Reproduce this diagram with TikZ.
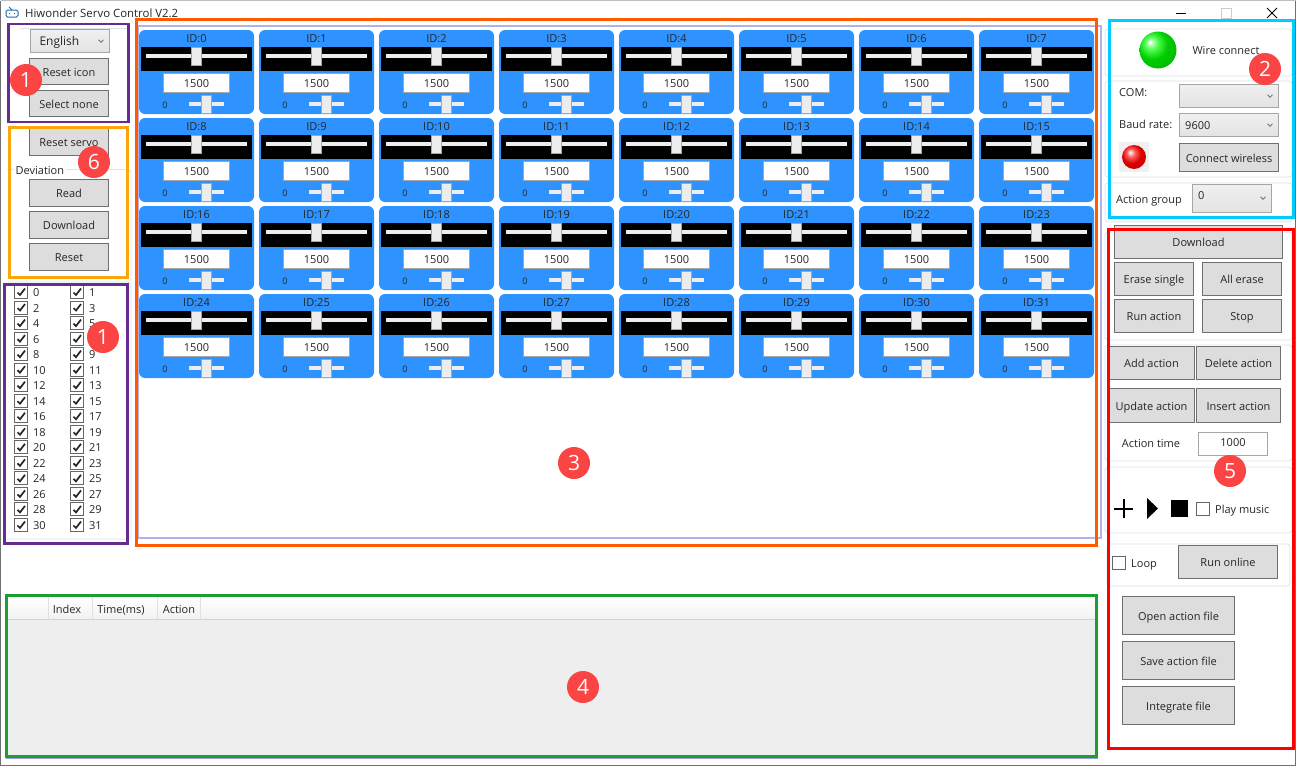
\documentclass[tikz,border=0pt]{standalone}
\usepackage{fontspec}
\setmainfont{Open Sans}
\usetikzlibrary{shapes.geometric}

\definecolor{servoblue}{HTML}{2E93FF}
\definecolor{btnfill}{HTML}{DDDDDD}
\definecolor{btnedge}{HTML}{707070}
\definecolor{groupedge}{HTML}{DCE3EC}
\definecolor{thumbfill}{HTML}{EDEDED}
\definecolor{badgered}{HTML}{FB4444}
\definecolor{framepurple}{HTML}{662D91}
\definecolor{frameamber}{HTML}{FBA60A}
\definecolor{frameorange}{HTML}{FF5A00}
\definecolor{framecyan}{HTML}{00CCFF}
\definecolor{framegreen}{HTML}{1E9E32}

\pgfdeclareradialshading{ledgreen}{\pgfpoint{-11bp}{11bp}}{color(0bp)=(white); color(9bp)=(green!70!white); color(20bp)=(green!80!black); color(38bp)=(green!70!black); color(60bp)=(green!50!black)}
\pgfdeclareradialshading{ledred}{\pgfpoint{-8bp}{10bp}}{color(0bp)=(white); color(9bp)=(red!65!white); color(20bp)=(red!85!black); color(38bp)=(red!75!black); color(60bp)=(red!50!black)}

\tikzset{
  guitext/.style={font=\fontsize{11}{12}\selectfont, text=black!85, inner sep=0pt, text height=11pt, text depth=2pt},
  guibtn/.style={guitext, draw=btnedge, fill=btnfill, line width=1pt},
  guicombo/.style={guitext, draw=black!35, top color=white!94!black, bottom color=white!89!black, line width=1pt},
  guibox/.style={guitext, draw=black!35, fill=white, line width=1pt},
  groupbox/.style={draw=groupedge, line width=.8pt, rounded corners=3pt},
  frame/.style={line width=3pt},
  badge/.style={circle, fill=badgered, text=white, minimum size=32pt, inner sep=0pt, font=\fontsize{21}{23}\selectfont},
  checkbox/.style={draw=black!60, fill=white, line width=1pt, minimum size=13pt, inner sep=0pt},
  track/.style={fill=thumbfill, draw=none, minimum height=4pt, inner sep=0pt},
  thumb/.style={fill=thumbfill, draw=black!35, line width=.8pt, inner sep=0pt},
  chevron/.style={draw=black!55, line width=.9pt},
}

\begin{document}
\begin{tikzpicture}[x=1pt, y=-1pt]
  \useasboundingbox (0,0) rectangle (1296,766);
  \fill[white] (0,0) rectangle (1296,766);
  \draw[btnedge, line width=1pt] (.5,766) -- (.5,.5);
  \draw[black!25, line width=1pt] (.5,.5) -- (1295.5,.5);
  \draw[btnedge, line width=1pt] (1295.5,.5) -- (1295.5,765.5) -- (0,765.5);

  % title bar
  \node[guitext, anchor=west, font=\fontsize{11.4}{12}\selectfont] (title) at (25,12.5) {Hiwonder Servo Control V2.2};
  \draw[servoblue!70!black, line width=1pt, rounded corners=1.5pt] (6,10) rectangle (18,17);
  \draw[servoblue!70!black, line width=1pt] (9,13.5) -- (10,13.5) (14,13.5) -- (15,13.5) (12,10) -- (9,7);
  \draw[black, line width=1pt] (1176,13) -- (1186,13);
  \draw[black!20, line width=1pt] (1221.5,8.5) rectangle (1231.5,18);
  \draw[black, line width=1pt] (1267,8) -- (1277,18) (1277,8) -- (1267,18);

  % group outlines
  \draw[groupedge, line width=.8pt] (20,28) -- (130,28);
  \draw[groupbox] (7,169.5) -- (131,169.5) -- (131,281);
  \draw[groupbox] (8,282) -- (131,282) -- (131,539) -- (8,539);
  \draw[groupbox] (1105,29) rectangle (1292,76);
  \draw[groupbox] (1105,81) rectangle (1292,177);
  \draw[groupbox] (1105,183) rectangle (1292,222);
  \draw[groupbox] (1105,232) rectangle (1292,340);
  \draw[groupbox] (1105,345) rectangle (1292,461);
  \draw[groupbox] (1105,467) rectangle (1292,533);
  \draw[groupbox] (1107,544) rectangle (1290,586);
  \draw[black!30!blue!30, line width=2pt] (138,26) rectangle (1101,538);

  % left column
  \node[guicombo, minimum width=79pt, minimum height=23pt, anchor=west, text width=70pt, align=left, font=\fontsize{12}{13}\selectfont] (comblang) at (29.5,41) {\hspace{5pt}English};
  \node[guibtn, minimum width=79pt, minimum height=26pt] (btnicon) at (69,71.5) {Reset icon};
  \node[guibtn, minimum width=79pt, minimum height=26pt] (btnnone) at (69,103.5) {Select none};
  \node[guibtn, minimum width=79pt, minimum height=27pt] (btnservo) at (69,141.5) {Reset servo};
  \node[guitext, fill=white, inner xsep=2pt, anchor=west] (deviation) at (13.5,170) {Deviation};
  \node[guibtn, minimum width=79pt, minimum height=27pt] (btnread) at (69,193) {Read};
  \node[guibtn, minimum width=79pt, minimum height=27pt] (btndown) at (69,225) {Download};
  \node[guibtn, minimum width=79pt, minimum height=27pt] (btnreset) at (69,257) {Reset};

  % servo check list
  \foreach \r in {0,...,15}{
    \foreach \c in {0,1}{
      \pgfmathtruncatemacro\sid{2*\r+\c}
      \pgfmathsetmacro\cy{292+15.53*\r}
      \pgfmathsetmacro\cx{21+56*\c}
      \node[checkbox] (chk\sid) at (\cx,\cy) {};
      \draw[black!85, line width=1.7pt] ([shift={(-3.5,.5)}]chk\sid.center) -- ([shift={(-1,3)}]chk\sid.center) -- ([shift={(4,-3.5)}]chk\sid.center);
      \node[guitext, anchor=west] (lab\sid) at ([xshift=12pt]chk\sid.center) {\sid};
    }
  }

  % servo panels
  \foreach \r in {0,...,3}{
    \foreach \c in {0,...,7}{
      \pgfmathtruncatemacro\sid{8*\r+\c}
      \begin{scope}[shift={(120*\c,88*\r)}]
        \node[fill=servoblue, rounded corners=6pt, minimum width=115pt, minimum height=84pt, inner sep=0pt] (panel\sid) at (196.5,72) {};
        \node[guitext] (idlab\sid) at (196.5,38) {ID:\sid};
        \node[fill=black, minimum width=111pt, minimum height=24pt, inner sep=0pt] (bar\sid) at (196.5,59) {};
        \node[track, minimum width=101pt] (trackhi\sid) at (196.5,56) {};
        \node[thumb, minimum width=10pt, minimum height=18pt] (thumbhi\sid) at (196.5,56) {};
        \node[guibox, minimum width=66pt, minimum height=19pt] (val\sid) at (196.5,83) {1500};
        \node[guitext, font=\fontsize{9}{10}\selectfont] (zero\sid) at (165,104) {0};
        \node[track, minimum width=35pt] (tracklo\sid) at (206.5,104) {};
        \node[thumb, minimum width=10pt, minimum height=18pt] (thumblo\sid) at (206.5,104) {};
      \end{scope}
    }
  }

  % connection group
  \node[circle, shading=ledgreen, minimum size=37pt, inner sep=0pt] (ledwire) at (1158,50) {};
  \node[guitext] (wire) at (1226,50) {Wire connect};
  \node[guitext, anchor=west] (comlab) at (1119,92) {COM:};
  \node[guicombo, minimum width=99pt, minimum height=23pt] (combcom) at (1229,96) {};
  \node[guitext, anchor=west] (baudlab) at (1119,124) {Baud rate:};
  \node[guicombo, minimum width=99pt, minimum height=23pt] (combbaud) at (1229,125) {};
  \node[guitext, anchor=west] (baudval) at (1185,125) {9600};
  \node[fill=black!6, minimum size=30pt, inner sep=0pt] (ledback) at (1134,157) {};
  \node[circle, shading=ledred, minimum size=24pt, inner sep=0pt] (ledred) at (ledback) {};
  \node[guibtn, minimum width=99pt, minimum height=28pt] (btnwireless) at (1229,157.5) {Connect wireless};
  \node[guitext, anchor=west] (grouplab) at (1116,199) {Action group};
  \node[guicombo, minimum width=79pt, minimum height=28pt] (combgroup) at (1232,198.5) {};
  \node[guitext, anchor=west] (groupval) at (1198,195) {0};
  \foreach \cx/\cy in {101/41,1270/96,1270/125,1263/198}
    \draw[chevron] (\cx-2.5,\cy-1.2) -- (\cx,\cy+1.2) -- (\cx+2.5,\cy-1.2);

  % action buttons
  \node[guibtn, minimum width=168pt, minimum height=33pt] (btndownload) at (1198.5,242) {Download};
  \node[guibtn, minimum width=79pt, minimum height=33pt] (btnerase) at (1154,279) {Erase single};
  \node[guibtn, minimum width=79pt, minimum height=33pt] (btnall) at (1242,279) {All erase};
  \node[guibtn, minimum width=79pt, minimum height=33pt] (btnrun) at (1154,316) {Run action};
  \node[guibtn, minimum width=79pt, minimum height=33pt] (btnstop) at (1242,316) {Stop};
  \node[guibtn, minimum width=85pt, minimum height=33pt] (btnadd) at (1151.5,363) {Add action};
  \node[guibtn, minimum width=84pt, minimum height=33pt] (btndelete) at (1238.5,363) {Delete action};
  \node[guibtn, minimum width=85pt, minimum height=34pt] (btnupdate) at (1151.5,405.5) {Update action};
  \node[guibtn, minimum width=84pt, minimum height=34pt] (btninsert) at (1238.5,405.5) {Insert action};
  \node[guitext] (timelab) at (1151,442.5) {Action time};
  \node[guibox, minimum width=69pt, minimum height=23pt] (timeval) at (1233,444) {};
  \node[guitext] (timenum) at (1233,442) {1000};

  % play controls
  \draw[black, line width=2pt] (1114,508.5) -- (1133,508.5) (1123.5,499) -- (1123.5,518);
  \fill[black] (1147,498) -- (1158,508.5) -- (1147,519) -- cycle;
  \fill[black] (1171,500) rectangle (1188,517);
  \node[checkbox] (chkmusic) at (1203,509) {};
  \node[guitext, anchor=west] (musiclab) at (1215,508.5) {Play music};
  \node[checkbox] (chkloop) at (1119,562.5) {};
  \node[guitext, anchor=west] (looplab) at (1131,563) {Loop};
  \node[guibtn, minimum width=99pt, minimum height=33pt] (btnonline) at (1228,562) {Run online};
  \node[guibtn, minimum width=112pt, minimum height=38pt] (btnopen) at (1178.5,615.5) {Open action file};
  \node[guibtn, minimum width=112pt, minimum height=38pt] (btnsave) at (1178.5,660.5) {Save action file};
  \node[guibtn, minimum width=112pt, minimum height=38pt] (btnfile) at (1178.5,705.5) {Integrate file};

  % action list
  \fill[black!6.5] (8,620) rectangle (1095,755);
  \shade[top color=white, bottom color=black!5] (8,597) rectangle (1095,619);
  \draw[black!17, line width=1pt] (8,619.5) -- (1095,619.5);
  \foreach \sx in {48,92,157,200}
    \draw[black!12, line width=1pt] (\sx,597) -- (\sx,619);
  \node[guitext] (colindex) at (67,608.5) {Index};
  \node[guitext] (coltime) at (121,608.5) {Time(ms)};
  \node[guitext] (colaction) at (179,608.5) {Action};
  \draw[black!30!blue!40, line width=.8pt] (6,758.5) -- (1097,758.5) -- (1097,740);

  % coloured frames
  \draw[frame, draw=framepurple, line width=2.6pt] (8.5,24) rectangle (128.5,122);
  \draw[frame, draw=frameamber] (9.5,127.5) rectangle (127.5,277.5);
  \draw[frame, draw=framepurple, line width=2.6pt] (4.5,284.5) rectangle (127.5,543.5);
  \draw[frame, draw=frameorange] (136.5,19.5) rectangle (1096.5,545);
  \draw[frame, draw=framecyan] (1109.5,20.5) rectangle (1293.5,217.5);
  \draw[frame, draw=red] (1108.5,229.5) rectangle (1293.5,748.5);
  \draw[frame, draw=framegreen] (6.5,595.5) rectangle (1096.5,756.5);

  % number badges
  \node[badge] (badgeonea) at (26,80) {1};
  \node[badge] (badgesix) at (94,162) {6};
  \node[badge] (badgeoneb) at (103,337) {1};
  \node[badge] (badgetwo) at (1265,69) {2};
  \node[badge] (badgethree) at (574,463) {3};
  \node[badge] (badgefour) at (583,687) {4};
  \node[badge] (badgefive) at (1230,471) {5};
\end{tikzpicture}
\end{document}
